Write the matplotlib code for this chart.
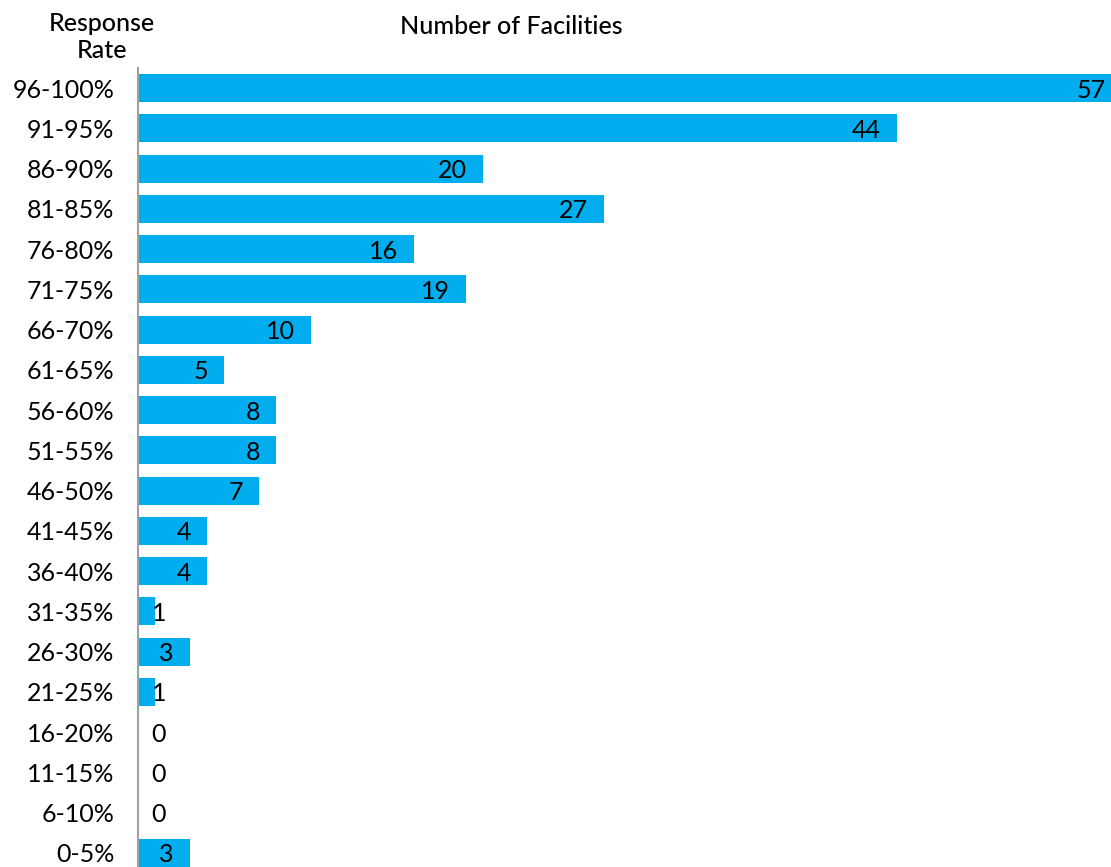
import numpy as np
import matplotlib.pyplot as plt

plt.rcParams['font.family'] = ['Lato', 'DejaVu Sans']

# response-rate bands, top to bottom
rates = ['96-100%', '91-95%', '86-90%', '81-85%', '76-80%', '71-75%', '66-70%',
         '61-65%', '56-60%', '51-55%', '46-50%', '41-45%', '36-40%', '31-35%',
         '26-30%', '21-25%', '16-20%', '11-15%', '6-10%', '0-5%']
facilities = [57, 44, 20, 27, 16, 19, 10, 5, 8, 8, 7, 4, 4, 1, 3, 1, 0, 0, 0, 3]

W, H = 1111, 867
fs = 18
fig = plt.figure(figsize=(W / 100, H / 100), dpi=100)
ax = fig.add_axes([138 / W, 0, 1 - 138 / W, (H - 68) / H])

y = np.arange(len(rates))
ax.barh(y, facilities, height=0.7, color='#00AEEF', zorder=2)

ax.set_xlim(0, 56.4)
ax.set_ylim(19.35, -0.5)
ax.set_yticks(y)
ax.set_yticklabels(rates, fontsize=fs)
ax.tick_params(axis='y', length=0, pad=17)
ax.set_xticks([])
for s in ['top', 'right', 'bottom']:
    ax.spines[s].set_visible(False)
ax.spines['left'].set_color('#A0A0A0')
ax.spines['left'].set_linewidth(1.5)

# value labels just inside the bar end, pushed out for tiny bars
px = 56.4 / (W - 138)
for yi, v in zip(y, facilities):
    x = max(v - 16 * px, 28 * px)
    ax.text(x, yi + 0.05, str(v), ha='right', va='center', fontsize=fs, color='black', zorder=3)

fig.text(102 / W, 1 - 37 / H, 'Response\nRate', ha='center', va='center',
         fontsize=fs, fontweight='medium', linespacing=1.25)
fig.text(511 / W, 1 - 26 / H, 'Number of Facilities', ha='center', va='center',
         fontsize=fs, fontweight='medium')

fig.savefig('out.png', dpi=100)
